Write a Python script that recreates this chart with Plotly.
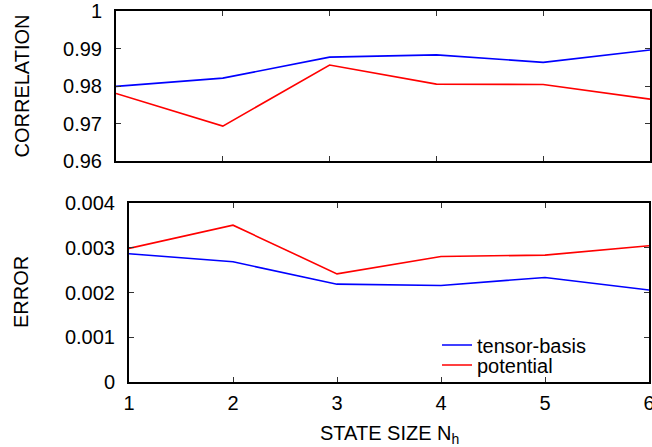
import plotly.graph_objects as go

W, H = 652, 447

state_size = [1, 2, 3, 4, 5, 6]
corr_tensor = [0.9799, 0.9821, 0.9877, 0.9883, 0.9863, 0.9896]
corr_potential = [0.9780, 0.9693, 0.9856, 0.9805, 0.9804, 0.9765]
err_tensor = [0.00287, 0.00269, 0.00219, 0.00216, 0.00234, 0.00206]
err_potential = [0.00299, 0.00351, 0.00242, 0.00281, 0.00284, 0.00305]

x_ticks = [1, 2, 3, 4, 5, 6]
corr_ticks = [0.96, 0.97, 0.98, 0.99, 1.0]
corr_ticktext = ["0.96", "0.97", "0.98", "0.99", "1"]
err_ticks = [0, 0.001, 0.002, 0.003, 0.004]
err_ticktext = ["0", "0.001", "0.002", "0.003", "0.004"]

BLUE = "#0000ff"
RED = "#ff0000"
FONT = "Liberation Sans, Arial, sans-serif"
FS = 20

def px_x(p):
    return p / W

def px_y(p):
    return (H - p) / H

fig = go.Figure()
fig.add_trace(go.Scatter(x=state_size, y=corr_tensor, mode="lines", line=dict(color=BLUE, width=1.6),
                         xaxis="x", yaxis="y", showlegend=False))
fig.add_trace(go.Scatter(x=state_size, y=corr_potential, mode="lines", line=dict(color=RED, width=1.6),
                         xaxis="x", yaxis="y", showlegend=False))
fig.add_trace(go.Scatter(x=state_size, y=err_tensor, mode="lines", line=dict(color=BLUE, width=1.6),
                         xaxis="x2", yaxis="y2", name="tensor-basis", legend="legend"))
fig.add_trace(go.Scatter(x=state_size, y=err_potential, mode="lines", line=dict(color=RED, width=1.6),
                         xaxis="x2", yaxis="y2", name="potential", legend="legend2"))

axis_common = dict(showline=True, linecolor="black", linewidth=2, mirror="allticks",
                   ticks="inside", ticklen=5, tickwidth=1, tickcolor="#333",
                   showgrid=False, zeroline=False, automargin=False, ticklabeloverflow="allow",
                   tickfont=dict(family=FONT, size=FS, color="black"))

fig.update_layout(
    template="none",
    width=W, height=H,
    margin=dict(l=0, r=0, t=0, b=0, pad=0),
    plot_bgcolor="white", paper_bgcolor="white",
    font=dict(family=FONT, size=FS, color="black"),
    xaxis=dict(domain=[px_x(116), px_x(650)], range=[1, 6], tickvals=x_ticks, showticklabels=False,
               anchor="y", **axis_common),
    yaxis=dict(domain=[px_y(161), px_y(11)], range=[0.96, 1.0], tickvals=corr_ticks, ticktext=corr_ticktext,
               anchor="x", ticklabelstandoff=8, **axis_common),
    xaxis2=dict(domain=[px_x(129), px_x(649)], range=[1, 6], tickvals=x_ticks,
                anchor="y2", ticklabelstandoff=2, **axis_common),
    yaxis2=dict(domain=[px_y(382), px_y(203.3)], range=[0, 0.004], tickvals=err_ticks, ticktext=err_ticktext,
                anchor="x2", ticklabelstandoff=8, **axis_common),
    legend=dict(x=px_x(437), y=px_y(345), xanchor="left", yanchor="middle", bgcolor="rgba(0,0,0,0)",
                font=dict(family=FONT, size=FS), borderwidth=0),
    legend2=dict(x=px_x(437), y=px_y(365), xanchor="left", yanchor="middle", bgcolor="rgba(0,0,0,0)",
                 font=dict(family=FONT, size=FS), borderwidth=0),
    annotations=[
        dict(text="CORRELATION", x=px_x(21), y=px_y(86.5), xref="paper", yref="paper", textangle=-90,
             showarrow=False, xanchor="center", yanchor="middle", font=dict(family=FONT, size=FS)),
        dict(text="ERROR", x=px_x(21), y=px_y(292), xref="paper", yref="paper", textangle=-90,
             showarrow=False, xanchor="center", yanchor="middle", font=dict(family=FONT, size=FS)),
        dict(text="STATE SIZE N<sub>h</sub>", x=px_x(389), y=px_y(434), xref="paper", yref="paper",
             showarrow=False, xanchor="center", yanchor="middle", font=dict(family=FONT, size=FS)),
    ],
)

fig.write_html("out.html", config={"displayModeBar": False},
               post_script="document.body.style.margin='0';document.body.style.overflow='hidden';")
